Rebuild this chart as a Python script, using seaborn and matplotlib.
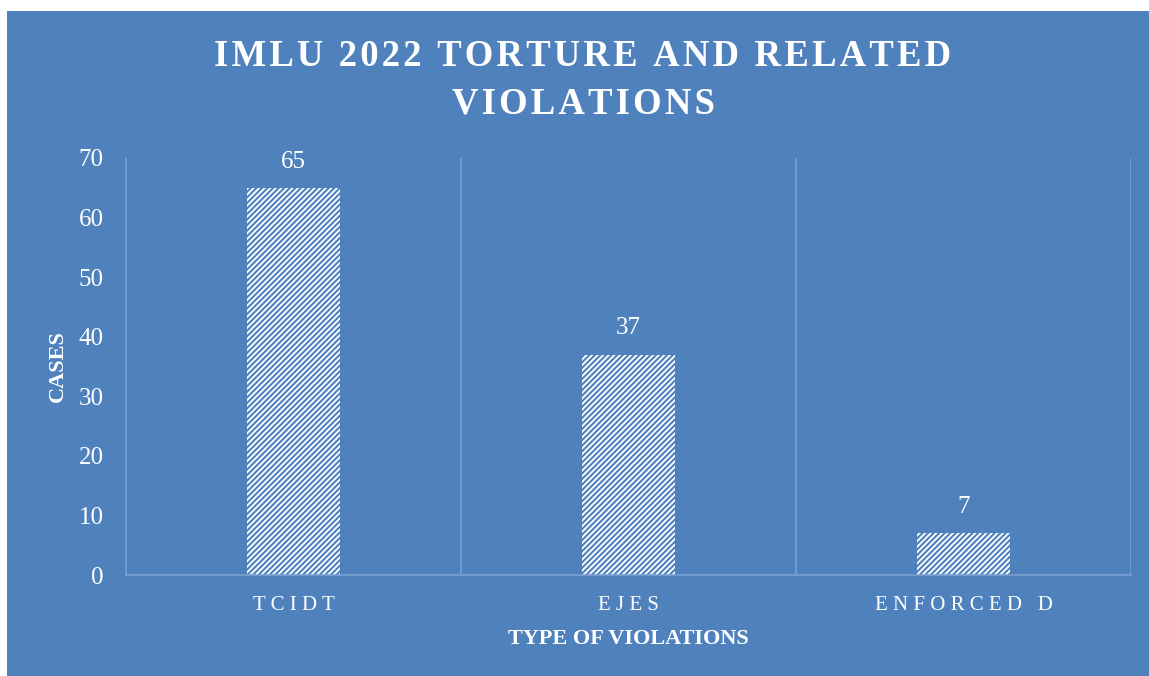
#!/usr/bin/env python3
# plot.py - IMLU 2022 torture and related violations

import pandas as pd
import matplotlib.pyplot as plt
import matplotlib.patches as mpatches
import seaborn as sns

sns.set_theme(style="white")
plt.rcParams["font.family"] = ["Liberation Serif", "DejaVu Serif"]
plt.rcParams["hatch.linewidth"] = 1.5

# data
categories = ["TCIDT", "EJES", "ENFORCED D"]
cases = [65, 37, 7]
tick_labels = [" ".join(c) for c in categories]
title_lines = ["IMLU 2022 TORTURE AND RELATED", "VIOLATIONS"]

bg = "#4F81BD"
grid_c = "#7C9FD0"

df = pd.DataFrame({"Type": categories, "Cases": cases})

fig = plt.figure(figsize=(11.49, 6.76), dpi=100, facecolor="white")
fig.patches.append(mpatches.Rectangle(
    (7 / 1149, 0), 1 - 7 / 1149, 1 - 11 / 676,
    transform=fig.transFigure, facecolor=bg, edgecolor="none", zorder=-10))
ax = fig.add_axes([126 / 1149, 1 - 575 / 676, 1005 / 1149, 417 / 676])
ax.set_facecolor("none")

sns.barplot(data=df, x="Type", y="Cases", color="white", width=0.275,
            edgecolor=bg, linewidth=0, hatch="//////", ax=ax)

# value labels
for p, v in zip(ax.patches, cases):
    ax.annotate(str(v), (p.get_x() + p.get_width() / 2, v),
                xytext=(0, 11), textcoords="offset points",
                ha="center", va="bottom", color="white", fontsize=18)

ax.set_xlim(-0.5, 2.5)
ax.set_ylim(0, 70)
ax.set_yticks(range(0, 71, 10))
ax.set_xticks(range(len(categories)))
ax.set_xticklabels(tick_labels)
ax.tick_params(axis="y", colors="white", labelsize=18, length=0, pad=16)
ax.tick_params(axis="x", colors="white", labelsize=15, length=0, pad=15)

# vertical separators
for xv in [0.5, 1.5, 2.5]:
    ax.axvline(xv, color=grid_c, lw=1.2, zorder=0)
for side in ["top", "right"]:
    ax.spines[side].set_visible(False)
for side in ["left", "bottom"]:
    ax.spines[side].set_color(grid_c)
    ax.spines[side].set_linewidth(1.2)

ax.set_xlabel("TYPE OF VIOLATIONS", color="white", fontsize=16,
              fontweight="bold", labelpad=10)
ax.set_ylabel("CASES", color="white", fontsize=16, fontweight="bold",
              labelpad=8)

# letter-spaced title
spaced = "\n".join("\u200a".join(line) for line in title_lines)
fig.text(583 / 1149, 1 - 80 / 676, spaced,
         ha="center", va="center", color="white", fontsize=26.5,
         fontweight="bold", linespacing=1.45)

fig.savefig("out.png", dpi=100, facecolor="white")
plt.close(fig)
